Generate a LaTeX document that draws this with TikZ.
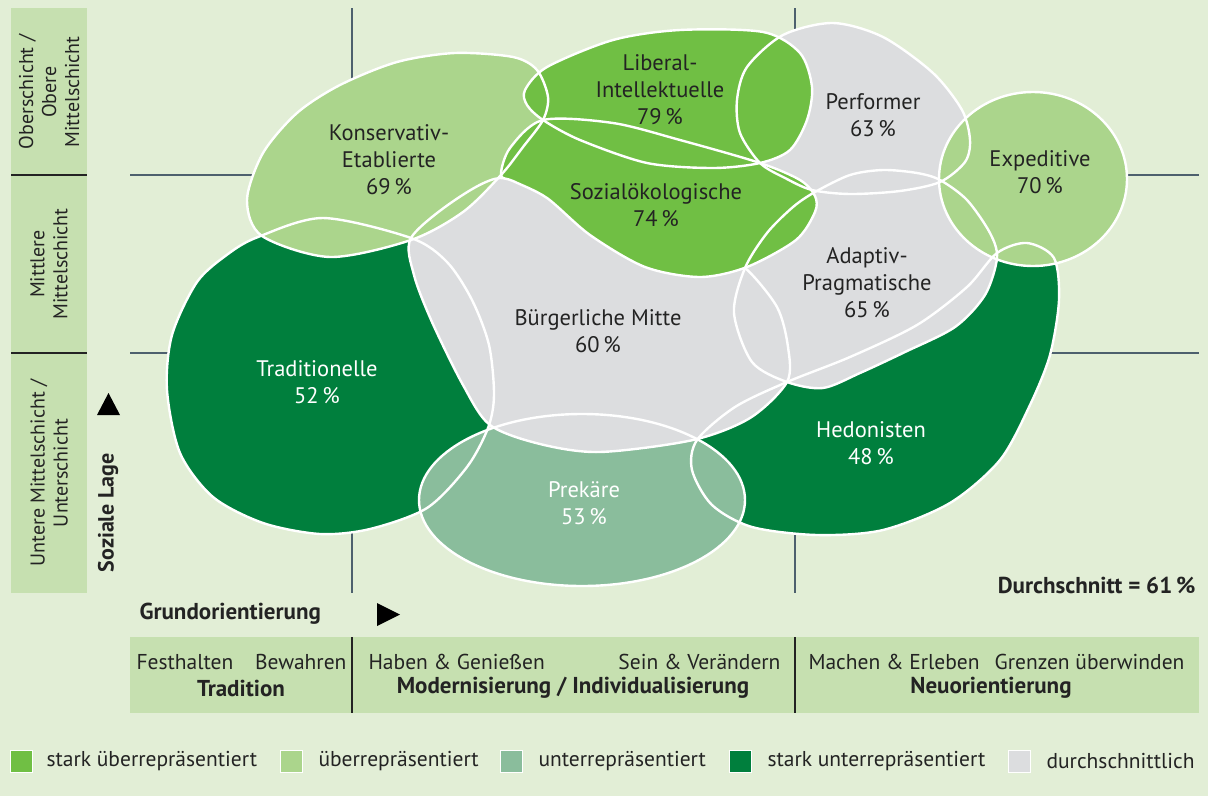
\documentclass[tikz,border=0pt]{standalone}
\usepackage{fontspec}
\setmainfont{PT Sans}

\definecolor{bgcol}{RGB}{226,238,214}
\definecolor{boxcol}{RGB}{198,224,176}
\definecolor{gridcol}{RGB}{77,96,110}
\definecolor{starkueber}{RGB}{112,191,68}
\definecolor{ueber}{RGB}{171,213,140}
\definecolor{unter}{RGB}{138,189,156}
\definecolor{starkunter}{RGB}{0,127,61}
\definecolor{mittel}{RGB}{220,221,223}
\definecolor{txt}{RGB}{35,35,35}

\newcommand{\shTrad}{plot[smooth cycle] coordinates {(258,237) (323,218) (411,238) (447,262) (472,300) (489,345) (494,395) (488,428) (467,467) (427,508) (370,529) (320,534) (263,523) (213,497) (180,453) (167,390) (172,335) (197,282) (228,254)}}
\newcommand{\shHed}{plot[smooth cycle] coordinates {(697,440) (735,407) (787,382) (850,357) (917,325) (967,287) (997,253) (1027,243) (1054,258) (1059,300) (1050,355) (1030,405) (1000,460) (950,503) (883,530) (817,535) (752,527) (712,505) (692,470)}}
\newcommand{\shPrek}{(582,500) ellipse [x radius=163pt, y radius=86pt]}
\newcommand{\shBM}{plot[smooth cycle] coordinates {(411,238) (455,200) (500,178) (545,195) (600,228) (660,255) (720,262) (745,268) (777,307) (788,347) (787,382) (750,418) (693,440) (600,452) (540,444) (490,425) (463,385) (432,322) (414,275)}}
\newcommand{\shPerf}{plot[smooth cycle] coordinates {(760,163) (740,133) (737,100) (747,67) (783,35) (833,23) (883,37) (933,73) (962,110) (970,140) (965,162) (940,182) (900,191) (850,194) (812,190) (785,178)}}
\newcommand{\shAdapt}{plot[smooth cycle] coordinates {(745,268) (767,233) (793,207) (815,192) (850,175) (883,170) (917,173) (940,180) (967,200) (990,233) (997,258) (985,295) (955,327) (905,352) (860,373) (823,388) (787,382) (752,362) (734,313)}}
\newcommand{\shKons}{plot[smooth cycle] coordinates {(247,200) (263,153) (297,113) (340,85) (397,62) (455,53) (513,57) (537,70) (548,97) (543,120) (523,147) (501,175) (463,212) (411,240) (330,257) (262,236)}}
\newcommand{\shLib}{plot[smooth cycle] coordinates {(525,90) (547,67) (613,40) (680,30) (763,32) (800,53) (812,87) (807,120) (790,150) (760,163) (713,168) (647,163) (580,140) (543,120) (527,105)}}
\newcommand{\shSozial}{plot[smooth cycle] coordinates {(501,175) (510,148) (543,120) (613,123) (680,140) (760,163) (800,180) (815,196) (815,212) (796,240) (747,267) (700,277) (645,267) (590,235) (547,198) (513,181)}}
\newcommand{\shExp}{(1033,179) ellipse [x radius=94pt, y radius=87pt]}

\tikzset{
  outline/.style={draw=white, line width=2.4pt},
  gridline/.style={draw=gridcol, line width=2pt},
  lbl/.style={align=center, text=txt, font=\fontsize{22.5}{27}\selectfont},
  lblw/.style={lbl, text=white},
  sidelbl/.style={align=center, text=txt, rotate=90, font=\fontsize{20}{23}\selectfont},
  celltxt/.style={text=txt, font=\fontsize{21.5}{25}\selectfont},
  cellhead/.style={text=txt, font=\fontsize{23}{26}\selectfont\bfseries},
  legbox/.style={draw=white, line width=1pt, minimum size=22pt, inner sep=0pt},
  legtxt/.style={anchor=west, text=txt, font=\fontsize{21.5}{25}\selectfont}
}

\begin{document}
\begin{tikzpicture}[x=1pt, y=-1pt]
  \fill[bgcol] (0,0) rectangle (1208,796);
  \useasboundingbox (0,0) rectangle (1208,796);

  \fill[boxcol] (11,8) rectangle (87,593);
  \draw[txt, line width=1.3pt] (11,175) -- (87,175);
  \draw[txt, line width=1.3pt] (11,353) -- (87,353);
  \node[sidelbl] (oben) at (49,92) {Oberschicht /\\Obere\\Mittelschicht};
  \node[sidelbl] (mitte) at (49,264) {Mittlere\\Mittelschicht};
  \node[sidelbl] (unten) at (49,473) {Untere Mittelschicht /\\Unterschicht};
  \node[sidelbl, font=\fontsize{22}{25}\selectfont\bfseries] (lage) at (108,513) {Soziale Lage};
  \fill[black] (97,415) -- (120,415) -- (108.5,393) -- cycle;

  \draw[gridline] (352,8) -- (352,593);
  \draw[gridline] (795,8) -- (795,593);
  \draw[gridline] (130,175) -- (1199,175);
  \draw[gridline] (130,353) -- (1199,353);

  \fill[starkunter] \shTrad;
  \fill[starkunter] \shHed;
  \fill[unter] \shPrek;
  \fill[mittel] \shBM;
  \fill[mittel] \shPerf;
  \fill[mittel] \shAdapt;
  \fill[ueber] \shKons;
  \draw[outline] \shBM;
  \fill[starkueber] \shLib;
  \fill[starkueber] \shSozial;
  \fill[ueber] \shExp;
  \draw[outline] \shTrad;
  \draw[outline] \shHed;
  \draw[outline] \shPrek;
  \draw[outline] \shPerf;
  \draw[outline] \shAdapt;
  \draw[outline] \shKons;
  \draw[outline] \shLib;
  \draw[outline] \shSozial;
  \draw[outline] \shExp;

  \node[lbl] (kons) at (389,160) {Konservativ-\\Etablierte\\69\,\%};
  \node[lbl] (lib) at (660,90) {Liberal-\\Intellektuelle\\79\,\%};
  \node[lbl] (perf) at (873,115) {Performer\\63\,\%};
  \node[lbl] (exp) at (1040,172) {Expeditive\\70\,\%};
  \node[lbl] (sozial) at (656,205) {Sozialökologische\\74\,\%};
  \node[lbl] (bm) at (598,331) {Bürgerliche Mitte\\60\,\%};
  \node[lbl] (adaptiv) at (867,283) {Adaptiv-\\Pragmatische\\65\,\%};
  \node[lblw] (trad) at (317,382) {Traditionelle\\52\,\%};
  \node[lblw] (hed) at (871,443) {Hedonisten\\48\,\%};
  \node[lblw] (prek) at (584,503) {Prekäre\\53\,\%};

  \node[cellhead, anchor=east] (schnitt) at (1199,585) {Durchschnitt = 61\,\%};
  \node[cellhead, anchor=west] (grund) at (136,614) {Grundorientierung};
  \fill[black] (377,603) -- (377,626) -- (400,614.5) -- cycle;

  \fill[boxcol] (130,637) rectangle (1199,713);
  \draw[txt, line width=1.3pt] (352,637) -- (352,713);
  \draw[txt, line width=1.3pt] (795,637) -- (795,713);
  \node[celltxt, anchor=west] (festhalten) at (133,662) {Festhalten};
  \node[celltxt, anchor=east] (bewahren) at (350,662) {Bewahren};
  \node[cellhead] (tradition) at (241,688) {Tradition};
  \node[celltxt, anchor=west] (haben) at (365,662) {Haben \& Genießen};
  \node[celltxt, anchor=east] (sein) at (784,662) {Sein \& Verändern};
  \node[cellhead] (moderne) at (573,688) {Modernisierung / Individualisierung};
  \node[celltxt, anchor=west] (machen) at (805,662) {Machen \& Erleben};
  \node[celltxt, anchor=east] (grenzen) at (1188,662) {Grenzen überwinden};
  \node[cellhead] (neu) at (991,688) {Neuorientierung};

  \node[legbox, fill=starkueber] (sq1) at (21,761) {};
  \node[legtxt] (leg1) at (43,761) {stark überrepräsentiert};
  \node[legbox, fill=ueber] (sq2) at (291,761) {};
  \node[legtxt] (leg2) at (315,761) {überrepräsentiert};
  \node[legbox, fill=unter] (sq3) at (511,761) {};
  \node[legtxt] (leg3) at (535,761) {unterrepräsentiert};
  \node[legbox, fill=starkunter] (sq4) at (740,761) {};
  \node[legtxt] (leg4) at (764,761) {stark unterrepräsentiert};
  \node[legbox, fill=mittel] (sq5) at (1019,761) {};
  \node[legtxt] (leg5) at (1043,761) {durchschnittlich};
\end{tikzpicture}
\end{document}
